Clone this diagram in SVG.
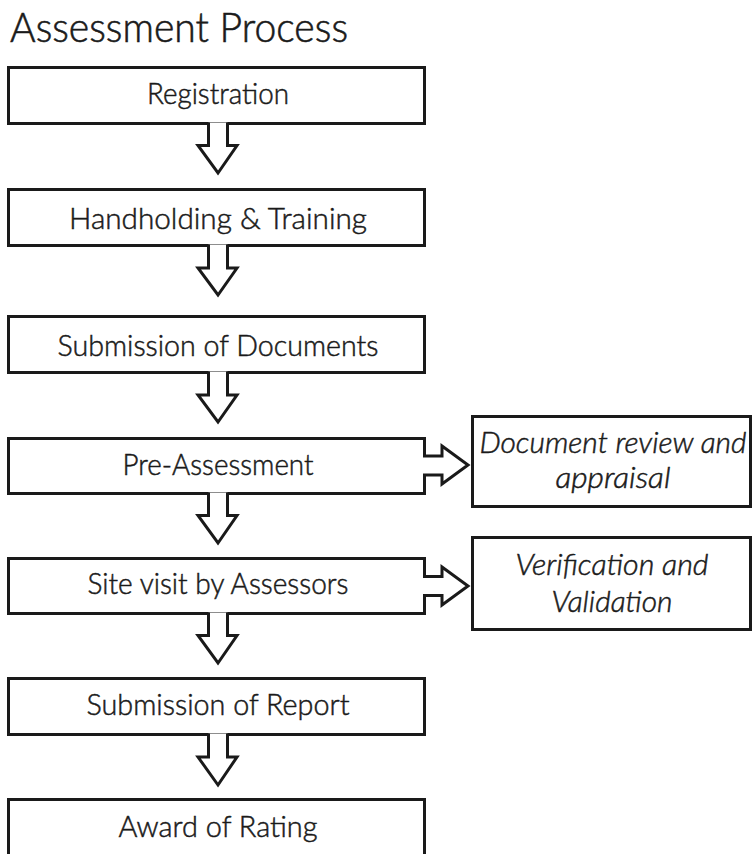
<svg xmlns="http://www.w3.org/2000/svg" width="752" height="854" viewBox="0 0 752 854">
<style>
.box{fill:#fff;stroke:#1a1a1a;stroke-width:3}
.arr{fill:#fff;stroke:#1a1a1a;stroke-width:3;stroke-linejoin:miter}
.lbl{font-family:Lato,"Liberation Sans",sans-serif;font-weight:300;font-size:29px;fill:#1a1a1a;stroke:#1a1a1a;stroke-width:0.5;text-anchor:middle}
.it{font-style:italic}
.title{font-family:Lato,"Liberation Sans",sans-serif;font-weight:300;font-size:41px;fill:#1a1a1a;stroke:#1a1a1a;stroke-width:0.6}
</style>
<rect width="752" height="854" fill="#fff"/>
<text class="title" x="10" y="42" textLength="338" lengthAdjust="spacingAndGlyphs">Assessment Process</text>

<g id="n1"><rect class="box" x="8.5" y="67.5" width="416" height="56"/><text class="lbl" x="218" y="104" textLength="142" lengthAdjust="spacingAndGlyphs">Registration</text></g>
<g id="n2"><rect class="box" x="8.5" y="189.5" width="416" height="56"/><text class="lbl" x="218" y="229" textLength="298" lengthAdjust="spacingAndGlyphs">Handholding &amp; Training</text></g>
<g id="n3"><rect class="box" x="8.5" y="316.5" width="416" height="56"/><text class="lbl" x="218" y="356" textLength="321" lengthAdjust="spacingAndGlyphs">Submission of Documents</text></g>
<g id="n4"><rect class="box" x="8.5" y="438.5" width="416" height="55"/><text class="lbl" x="218" y="475" textLength="191" lengthAdjust="spacingAndGlyphs">Pre-Assessment</text></g>
<g id="n5"><rect class="box" x="8.5" y="558.5" width="416" height="55"/><text class="lbl" x="218" y="594" textLength="261" lengthAdjust="spacingAndGlyphs">Site visit by Assessors</text></g>
<g id="n6"><rect class="box" x="8.5" y="678.5" width="416" height="56"/><text class="lbl" x="218" y="715" textLength="263" lengthAdjust="spacingAndGlyphs">Submission of Report</text></g>
<g id="n7"><rect class="box" x="8.5" y="799.5" width="416" height="60"/><text class="lbl" x="218" y="837" textLength="199" lengthAdjust="spacingAndGlyphs">Award of Rating</text></g>
<g id="n8"><rect class="box" x="472.5" y="416.5" width="278" height="90"/><text class="lbl it" x="613" y="453" textLength="267" lengthAdjust="spacingAndGlyphs">Document review and</text><text class="lbl it" x="613" y="488" textLength="115" lengthAdjust="spacingAndGlyphs">appraisal</text></g>
<g id="n9"><rect class="box" x="472.5" y="537.5" width="278" height="92"/><text class="lbl it" x="612" y="575" textLength="193" lengthAdjust="spacingAndGlyphs">Verification and</text><text class="lbl it" x="612" y="612" textLength="121" lengthAdjust="spacingAndGlyphs">Validation</text></g>

<g id="connectors">
<path class="arr" d="M208.5,122.5 V145.5 H198 L218,173 L237,145.5 H227.5 V122.5"/>
<path class="arr" d="M208.5,244.5 V268 H198 L218,295 L237,268 H227.5 V244.5"/>
<path class="arr" d="M208.5,371.5 V395 H198 L218,422 L237,395 H227.5 V371.5"/>
<path class="arr" d="M208.5,492.5 V515.5 H198 L218,543 L237,515.5 H227.5 V492.5"/>
<path class="arr" d="M208.5,612.5 V635.5 H198 L218,663 L237,635.5 H227.5 V612.5"/>
<path class="arr" d="M208.5,733.5 V757 H198 L218,785 L237,757 H227.5 V733.5"/>
<path class="arr" d="M423,456 H442 V446 L468,465 L442,484 V475 H423"/>
<path class="arr" d="M423,576.5 H442 V567 L468,586 L442,605 V595.5 H423"/>
</g>
</svg>
